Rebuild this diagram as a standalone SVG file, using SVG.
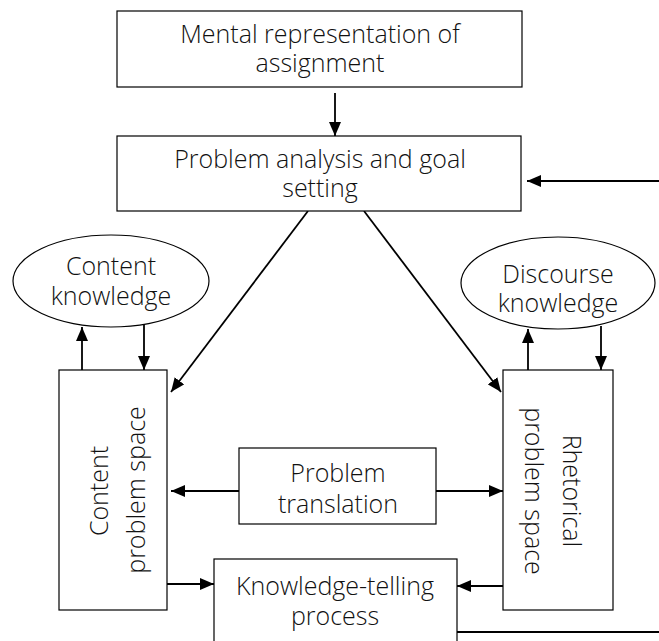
<svg xmlns="http://www.w3.org/2000/svg" width="659" height="641" viewBox="0 0 659 641">
<style>
.box{fill:#fff;stroke:#000;stroke-width:1.2}
.t{font-family:"Open Sans","Liberation Sans",sans-serif;font-weight:300;font-size:25px;fill:#111;text-anchor:middle}
.c{stroke:#000;stroke-width:1.8;fill:none}
</style>
<defs>
<marker id="ah" markerWidth="14" markerHeight="12" refX="14" refY="6" orient="auto" markerUnits="userSpaceOnUse">
<path d="M0,0 L14,6 L0,12 Z" fill="#000"/>
</marker>
</defs>
<rect width="659" height="641" fill="#fff"/>
<g id="connectors">
<line class="c" x1="335" y1="93" x2="335" y2="136" marker-end="url(#ah)"/>
<line class="c" x1="659" y1="181" x2="527" y2="181" marker-end="url(#ah)"/>
<line class="c" x1="308" y1="211" x2="171" y2="392" marker-end="url(#ah)"/>
<line class="c" x1="364" y1="211" x2="501" y2="392" marker-end="url(#ah)"/>
<line class="c" x1="82" y1="370" x2="82" y2="327" marker-end="url(#ah)"/>
<line class="c" x1="144" y1="324" x2="144" y2="370" marker-end="url(#ah)"/>
<line class="c" x1="528" y1="370" x2="528" y2="329" marker-end="url(#ah)"/>
<line class="c" x1="601" y1="326" x2="601" y2="370" marker-end="url(#ah)"/>
<line class="c" x1="239" y1="491" x2="171" y2="491" marker-end="url(#ah)"/>
<line class="c" x1="436" y1="491" x2="503" y2="491" marker-end="url(#ah)"/>
<line class="c" x1="167" y1="584" x2="214" y2="584" marker-end="url(#ah)"/>
<line class="c" x1="503" y1="586" x2="457" y2="586" marker-end="url(#ah)"/>
<line class="c" x1="457" y1="632" x2="659" y2="632"/>
</g>
<g id="mental">
<rect class="box" x="117" y="11" width="405" height="76"/>
<text class="t" x="320" y="43">Mental representation of</text>
<text class="t" x="320" y="72">assignment</text>
</g>
<g id="analysis">
<rect class="box" x="117" y="136" width="404" height="75"/>
<text class="t" x="320" y="168">Problem analysis and goal</text>
<text class="t" x="320" y="197">setting</text>
</g>
<g id="content-knowledge">
<ellipse class="box" cx="111" cy="281" rx="98" ry="46"/>
<text class="t" x="111" y="275">Content</text>
<text class="t" x="111" y="305">knowledge</text>
</g>
<g id="discourse-knowledge">
<ellipse class="box" cx="558" cy="283" rx="97" ry="46"/>
<text class="t" x="558" y="283">Discourse</text>
<text class="t" x="558" y="312">knowledge</text>
</g>
<g id="content-space">
<rect class="box" x="59" y="370" width="108" height="240"/>
<text class="t" transform="translate(108,491) rotate(-90)">Content</text>
<text class="t" transform="translate(145,490) rotate(-90)">problem space</text>
</g>
<g id="rhetorical-space">
<rect class="box" x="503" y="370" width="110" height="240"/>
<text class="t" transform="translate(563,491) rotate(90)">Rhetorical</text>
<text class="t" transform="translate(525,491) rotate(90)">problem space</text>
</g>
<g id="translation">
<rect class="box" x="239" y="448" width="197" height="76"/>
<text class="t" x="338" y="482">Problem</text>
<text class="t" x="338" y="513">translation</text>
</g>
<g id="telling">
<rect class="box" x="214" y="559" width="243" height="100"/>
<text class="t" x="335" y="595">Knowledge-telling</text>
<text class="t" x="335" y="625">process</text>
</g>
</svg>
